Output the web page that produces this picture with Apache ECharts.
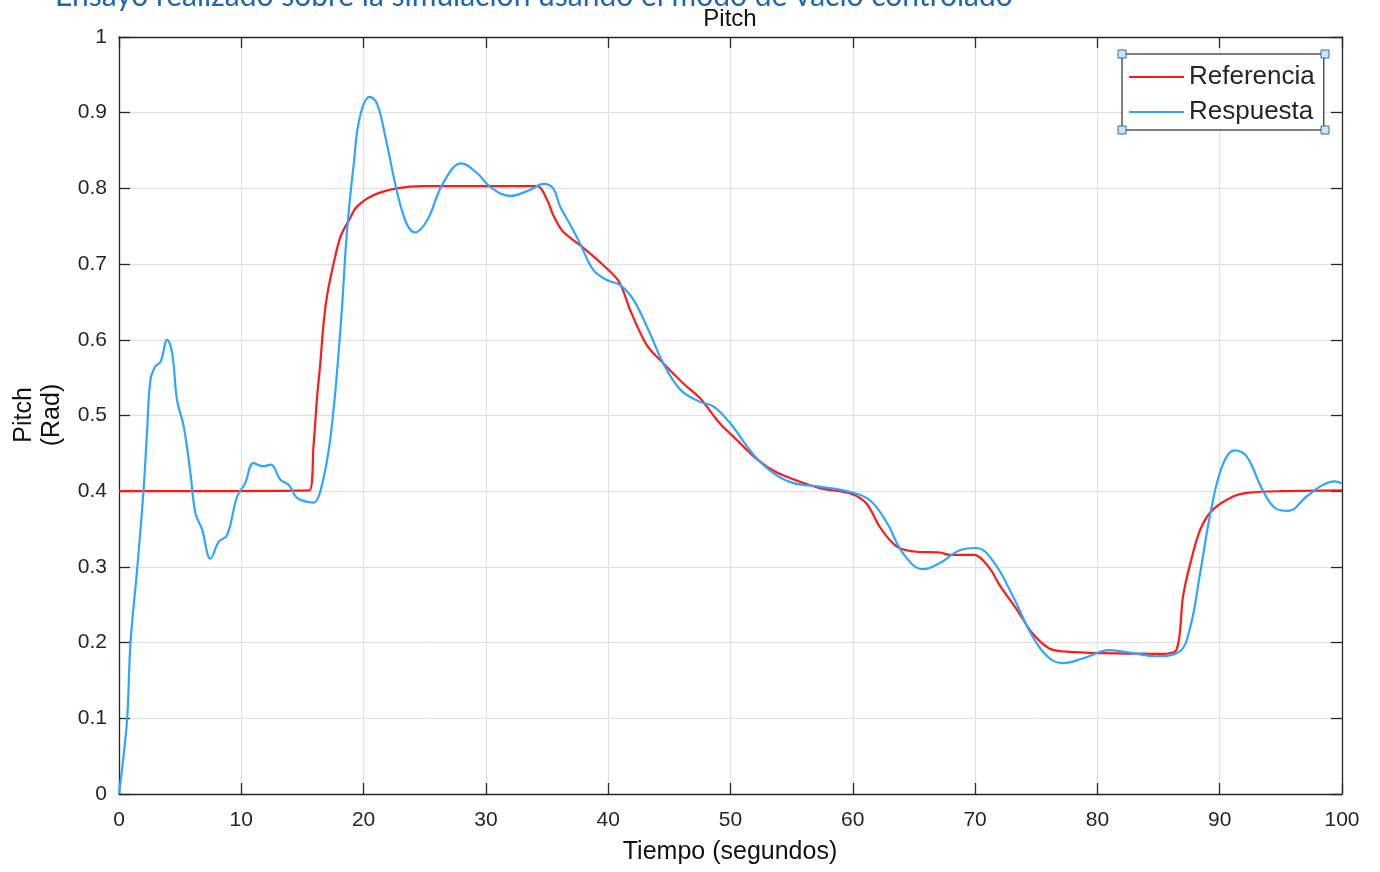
<!DOCTYPE html>
<html>
<head>
<meta charset="utf-8">
<script src="https://cdn.jsdelivr.net/npm/echarts@6/dist/echarts.min.js"></script>
<style>
html,body{margin:0;padding:0;background:#fff;}
#c{width:1380px;height:872px;}
</style>
</head>
<body>
<div id="c"></div>
<script>
// ---- data ----
var xTicks = [0,10,20,30,40,50,60,70,80,90,100];
var yTicks = [0,0.1,0.2,0.3,0.4,0.5,0.6,0.7,0.8,0.9,1];

var refTime  = [0, 15.55, 15.9, 16.2, 16.46, 16.7, 17.0, 17.55, 18.1, 18.8, 19.46, 20.8, 22.7, 24.9, 34.2,
                35.0, 35.5, 36.3, 37.7, 39.3, 40.7, 41.2, 41.8, 43.15, 44.5, 46.1, 47.5, 49.1, 50.5, 51.9, 53.2, 54.6, 57.3,
                59.8, 61.1, 62.2, 63.0, 63.8, 65.2, 67.1, 67.9, 69.97, 71.2, 72.0, 73.4, 74.7, 76.1, 77.5, 80.2, 85.1,
                86.45, 87.0, 87.6, 88.4, 89.4, 91.1, 92.4, 95, 100];
var refValue = [0.4, 0.401, 0.459, 0.525, 0.569, 0.617, 0.657, 0.701, 0.736, 0.758, 0.776, 0.791, 0.800, 0.803, 0.803,
                0.785, 0.765, 0.743, 0.725, 0.703, 0.681, 0.666, 0.639, 0.593, 0.569, 0.543, 0.523, 0.490, 0.468, 0.446, 0.430, 0.419, 0.404,
                0.397, 0.384, 0.353, 0.336, 0.325, 0.320, 0.319, 0.316, 0.316, 0.298, 0.276, 0.244, 0.212, 0.192, 0.188, 0.186, 0.185,
                0.190, 0.261, 0.305, 0.349, 0.375, 0.393, 0.398, 0.400, 0.401];

var respTime  = [0, 0.3, 0.67, 0.94, 1.5, 2.0, 2.3, 2.57, 2.98, 3.4, 3.94, 4.35, 4.75, 5.3, 5.84, 6.25, 6.8, 7.48, 8.15, 8.84,
                 9.66, 10.3, 11.0, 11.8, 12.4, 13.2, 13.9, 14.56, 15.4, 15.9, 16.5, 17.3, 18.1, 18.65, 19.2, 19.7, 20.5, 21.1,
                 21.9, 22.7, 23.5, 24.2, 25.2, 26.5, 28.0, 29.3, 30.35, 32.0, 33.6, 34.7, 35.5, 36.07, 36.9, 37.7, 38.8, 39.9,
                 41.0, 42.06, 43.4, 44.5, 45.9, 47.5, 48.6, 49.96, 51.9, 53.5, 55.1, 57.3, 59.8, 61.4, 62.8, 64.1, 65.75, 67.1,
                 68.75, 70.1, 71.5, 73.1, 74.7, 76.1, 77.2, 78.8, 81.0, 82.9, 84.8, 86.7, 87.6, 88.4, 89.4, 90.3, 91.2, 92.2,
                 93.5, 94.6, 95.6, 97.1, 98.4, 99.4, 100];
var respValue = [0, 0.04, 0.1, 0.199, 0.30, 0.40, 0.48, 0.547, 0.565, 0.571, 0.600, 0.582, 0.520, 0.485, 0.424, 0.371, 0.349, 0.311, 0.333, 0.342,
                 0.393, 0.410, 0.437, 0.433, 0.435, 0.415, 0.408, 0.391, 0.386, 0.385, 0.402, 0.472, 0.613, 0.745, 0.833, 0.895, 0.921, 0.912,
                 0.859, 0.798, 0.754, 0.742, 0.758, 0.807, 0.833, 0.820, 0.802, 0.790, 0.798, 0.806, 0.800, 0.776, 0.752, 0.727, 0.692, 0.679,
                 0.672, 0.653, 0.609, 0.569, 0.534, 0.518, 0.512, 0.490, 0.448, 0.424, 0.411, 0.406, 0.399, 0.388, 0.358, 0.318, 0.297, 0.305,
                 0.322, 0.325, 0.307, 0.261, 0.208, 0.179, 0.173, 0.179, 0.190, 0.186, 0.182, 0.188, 0.221, 0.292, 0.384, 0.437, 0.454, 0.446,
                 0.402, 0.377, 0.374, 0.393, 0.408, 0.413, 0.410];

var seriesNames = ['Referencia', 'Respuesta'];
var titleText = 'Pitch';
var topText = 'Ensayo realizado sobre la simulación usando el modo de vacío controlado';
var xName = 'Tiempo (segundos)';
var yName = 'Pitch\n(Rad)';

function pairs(t, v){ return t.map(function(x,i){ return [x, v[i]]; }); }

var FONT = '"Liberation Sans", Arial, sans-serif';
var chart = echarts.init(document.getElementById('c'));

var legL = 1122, legT = 54, legR = 1325, legB = 130;
function handle(x, y){
  return {type:'rect', shape:{x:x-4, y:y-4, width:8, height:8},
          style:{fill:'#cfe3f6', stroke:'#2f6db0', lineWidth:1}, z:100};
}
var AX = '#262626';

chart.setOption({
  animation: false,
  backgroundColor: '#fff',
  grid: {left: 119, right: 38, top: 37, bottom: 78, containLabel: false},
  xAxis: [{
    type: 'value', min: xTicks[0], max: xTicks[xTicks.length-1], interval: 10,
    axisLine: {show: true, onZero: false, lineStyle: {color: AX, width: 1.3}},
    axisTick: {show: true, inside: true, length: 11, lineStyle: {color: AX, width: 1.3}},
    axisLabel: {fontFamily: FONT, fontSize: 21, color: AX, margin: 16},
    splitLine: {show: true, lineStyle: {color: '#e0e0e0', width: 1}}
  }, {
    type: 'value', position: 'top', min: xTicks[0], max: xTicks[xTicks.length-1], interval: 10,
    axisLine: {show: true, onZero: false, lineStyle: {color: AX, width: 1.3}},
    axisTick: {show: true, inside: true, length: 11, lineStyle: {color: AX, width: 1.3}},
    axisLabel: {show: false}, splitLine: {show: false}
  }],
  yAxis: [{
    type: 'value', min: yTicks[0], max: yTicks[yTicks.length-1], interval: 0.1,
    axisLine: {show: true, onZero: false, lineStyle: {color: AX, width: 1.3}},
    axisTick: {show: true, inside: true, length: 11, lineStyle: {color: AX, width: 1.3}},
    axisLabel: {fontFamily: FONT, fontSize: 21, color: AX, margin: 12},
    splitLine: {show: true, lineStyle: {color: '#e0e0e0', width: 1}}
  }, {
    type: 'value', position: 'right', min: yTicks[0], max: yTicks[yTicks.length-1], interval: 0.1,
    axisLine: {show: true, onZero: false, lineStyle: {color: AX, width: 1.3}},
    axisTick: {show: true, inside: true, length: 11, lineStyle: {color: AX, width: 1.3}},
    axisLabel: {show: false}, splitLine: {show: false}
  }],
  legend: {
    orient: 'vertical', left: legL, top: legT,
    padding: [10, 9, 5, 7], itemGap: 9, itemWidth: 55, itemHeight: 2, icon: 'rect',
    backgroundColor: '#fff', borderColor: '#555', borderWidth: 1.5, borderRadius: 0,
    textStyle: {fontFamily: FONT, fontSize: 26, color: AX},
    data: seriesNames
  },
  series: [{
    name: seriesNames[0], type: 'line', xAxisIndex: 0, yAxisIndex: 0,
    data: pairs(refTime, refValue), showSymbol: false, symbol: 'none',
    smooth: 0.3,
    lineStyle: {color: '#ff1a1a', width: 2.2}, itemStyle: {color: '#ff1a1a'}, z: 3
  }, {
    name: seriesNames[1], type: 'line', xAxisIndex: 0, yAxisIndex: 0,
    data: pairs(respTime, respValue), showSymbol: false, symbol: 'none',
    smooth: 0.4,
    lineStyle: {color: '#2ea6ff', width: 2.2}, itemStyle: {color: '#2ea6ff'}, z: 4
  }],
  graphic: [
    {type:'text', left: 55, top: -19, style:{text: topText, fontFamily:'Lato, "Open Sans", sans-serif', fontSize: 30, fill:'#1f66b0'}},
    {type:'text', x: 730, y: 19, style:{text: titleText, fontFamily: FONT, fontSize: 24, fill:'#111', align:'center', verticalAlign:'middle'}},
    {type:'text', x: 730, y: 852, style:{text: xName, fontFamily: FONT, fontSize: 25, fill:'#111', align:'center', verticalAlign:'middle'}},
    {type:'text', x: 38, y: 415, rotation: Math.PI/2, style:{text: yName, fontFamily: FONT, fontSize: 25, lineHeight: 28, fill:'#111', align:'center', verticalAlign:'middle'}},
    handle(legL, legT), handle(legR, legT), handle(legL, legB), handle(legR, legB)
  ]
});
</script>
</body>
</html>
